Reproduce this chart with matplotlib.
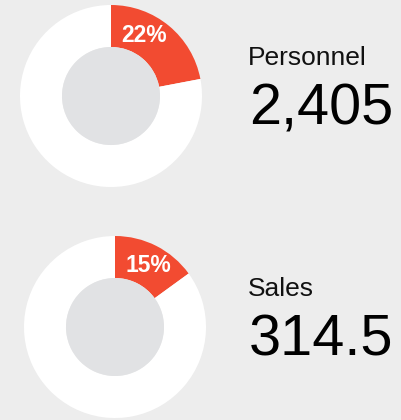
import matplotlib.pyplot as plt
from matplotlib.patches import Circle

# %% Data
names = ['Personnel', 'Sales']
values = ['2,405', '314.5']
shares = [22, 15]

# %% Style
BG = '#ededed'
RED = '#f24b31'
INNER = '#e1e2e4'
H = 420
centers = [(111, 96), (115, 327)]   # pixel positions (x, y from top)
R_OUT, R_IN = 91, 49

plt.rcParams['font.family'] = ['Liberation Sans', 'DejaVu Sans']

fig = plt.figure(figsize=(4.01, 4.20), dpi=100, facecolor=BG)
ax = fig.add_axes([0, 0, 1, 1])
ax.set_xlim(0, 401)
ax.set_ylim(0, H)
ax.set_aspect('equal')
ax.axis('off')

for name, val, pct, (cx, cy) in zip(names, values, shares, centers):
    cy = H - cy
    ax.pie([pct, 100 - pct], colors=[RED, 'white'], startangle=90,
           counterclock=False, center=(cx, cy), radius=R_OUT,
           wedgeprops=dict(width=R_OUT - R_IN, edgecolor='none'))
    ax.add_patch(Circle((cx, cy), R_IN, facecolor=INNER, edgecolor='none', zorder=3))
    ax.text(cx + 33, cy + 61, f'{pct}%', color='white', fontsize=16.5,
            fontweight='bold', ha='center', va='center', zorder=4)
    ax.text(248, cy + 31, name, fontsize=19, color='#111111',
            ha='left', va='baseline')
    ax.text(249, cy - 28, val, fontsize=41.5, color='black',
            ha='left', va='baseline')

ax.set_xlim(0, 401)
ax.set_ylim(0, H)
fig.savefig('out.png', dpi=100, facecolor=BG)
